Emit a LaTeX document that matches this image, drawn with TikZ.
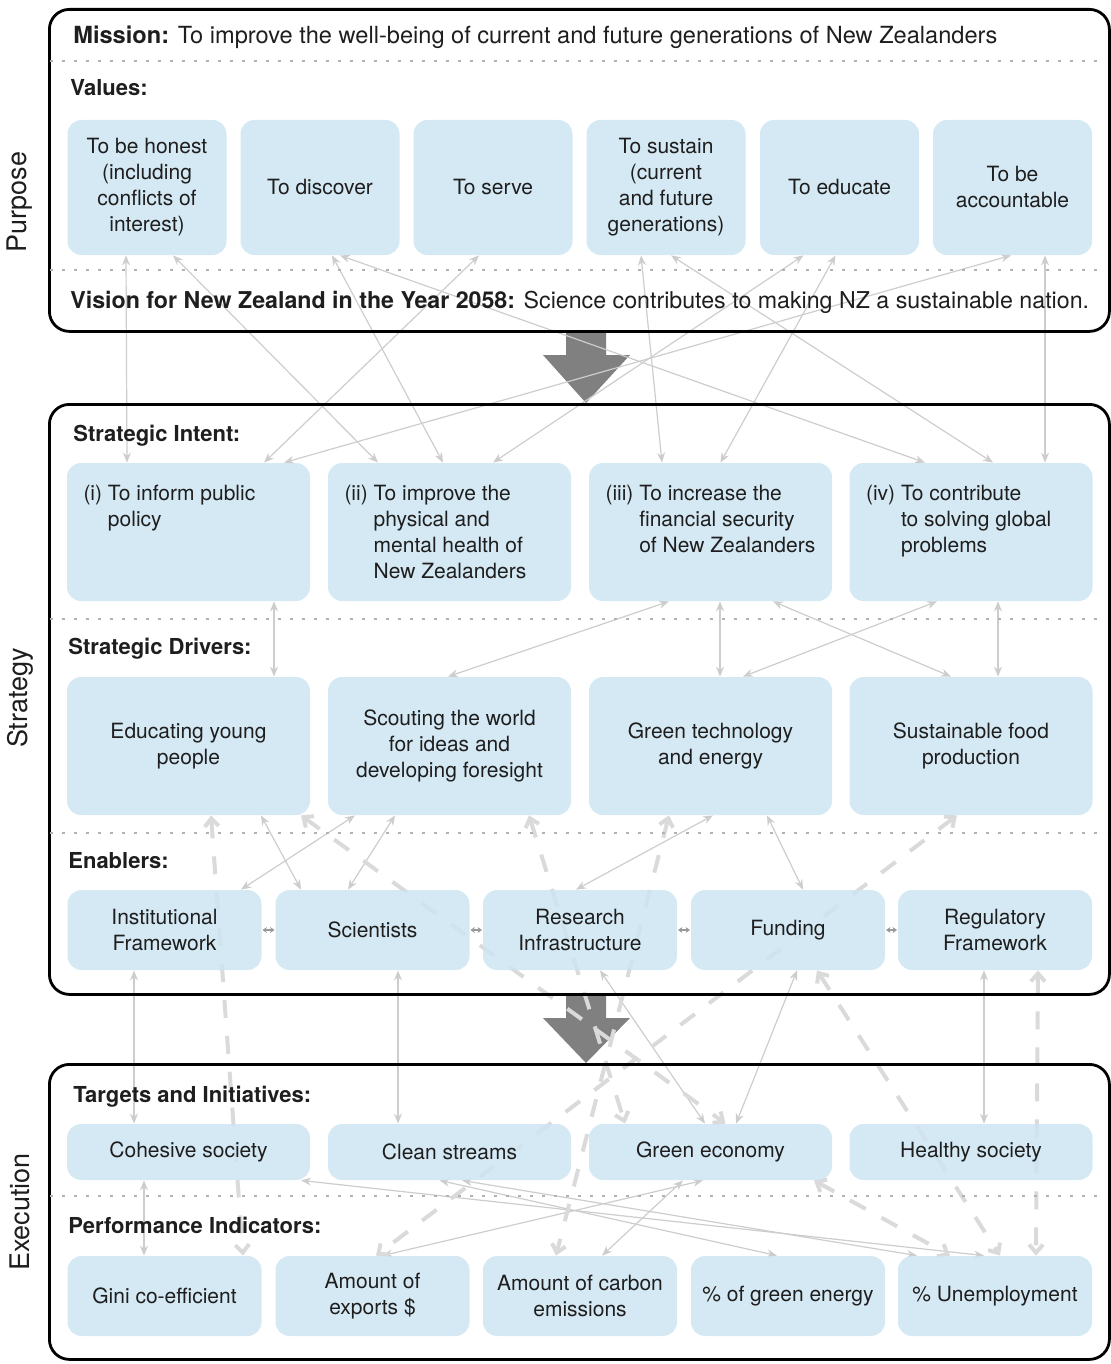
\documentclass[tikz,border=0pt]{standalone}
\usepackage{fontspec}
\setmainfont{TeX Gyre Heros}
\usetikzlibrary{arrows.meta,calc}

\definecolor{boxblue}{HTML}{CEE5F2}
\definecolor{linkgray}{HTML}{CDCDCD}
\definecolor{dashgray}{HTML}{DADADA}
\definecolor{dotgray}{HTML}{B2B2B2}
\definecolor{arrowgray}{HTML}{808080}
\definecolor{ink}{HTML}{1E1E1E}

\pgfdeclarelayer{links}
\pgfsetlayers{links,main}

\tikzset{
  panel/.style={draw=black, line width=1.4pt, rounded corners=10pt, anchor=north west, inner sep=0pt},
  item/.style={fill=boxblue, fill opacity=0.86, text opacity=1, rounded corners=7pt, inner sep=2pt, align=center},
  valbox/.style={item, minimum width=79.5pt, minimum height=67.5pt},
  bigbox/.style={item, minimum width=121.5pt, minimum height=69pt},
  enbox/.style={item, minimum width=97pt, minimum height=40pt},
  tgbox/.style={item, minimum width=121.5pt, minimum height=28pt},
  heading/.style={anchor=base west, inner sep=0pt, font=\fontsize{11}{13}\selectfont\bfseries},
  statement/.style={anchor=base west, inner sep=0pt, font=\fontsize{11.8}{13}\selectfont},
  sidelabel/.style={rotate=90, font=\fontsize{13.5}{16}\selectfont},
  sepline/.style={dotgray, line width=1.4pt, dash pattern=on 1.4pt off 4.6pt},
  link/.style={linkgray, line width=0.6pt, {Stealth[length=5pt,width=4pt]}-{Stealth[length=5pt,width=4pt]}},
  dlink/.style={dashgray, line width=2pt, dash pattern=on 9pt off 9pt, {Straight Barb[length=4pt,width=7pt]}-{Straight Barb[length=4pt,width=7pt]}},
  tinylink/.style={gray!80, line width=0.7pt, {Stealth[length=2.2pt,width=3pt]}-{Stealth[length=2.2pt,width=3pt]}, shorten <=0.3pt, shorten >=0.3pt}
}

% intent box text with hanging indent
\newcommand{\intent}[2]{\parbox[c][50pt][t]{105pt}{\begin{tabular}{@{}l@{\ }l@{}}#1 & #2\end{tabular}}}

\begin{document}
\begin{tikzpicture}[x=0.5pt, y=-0.5pt, font=\fontsize{10.5}{13}\selectfont, text=ink]
\useasboundingbox (0,0) rectangle (1111,1364);

% panels
\node[panel, minimum width=530pt, minimum height=161pt] (purpose) at (48,8) {};
\node[panel, minimum width=530pt, minimum height=295pt] (strategy) at (48,403) {};
\node[panel, minimum width=530pt, minimum height=147.5pt] (execution) at (48,1063) {};

\node[sidelabel] (purposelbl) at (20,202) {Purpose};
\node[sidelabel] (strategylbl) at (20,698) {Strategy};
\node[sidelabel] (executionlbl) at (20,1212) {Execution};

% dotted separators
\draw[sepline] (50,61) -- (1106,61);
\draw[sepline] (50,270) -- (1106,270);
\draw[sepline] (50,619) -- (1106,619);
\draw[sepline] (50,833) -- (1106,833);
\draw[sepline] (50,1196) -- (1106,1196);

% headings
\node[statement] (mission) at (73,44) {\textbf{Mission:} To improve the well-being of current and future generations of New Zealanders};
\node[heading] (values) at (70,96) {Values:};
\node[statement, font=\fontsize{11.6}{13}\selectfont] (vision) at (70,308) {\textbf{Vision for New Zealand in the Year 2058:} Science contributes to making NZ a sustainable nation.};
\node[heading] (intenthd) at (73,441) {Strategic Intent:};
\node[heading] (drivershd) at (68,654) {Strategic Drivers:};
\node[heading] (enablershd) at (68,868) {Enablers:};
\node[heading] (targetshd) at (73,1102) {Targets and Initiatives:};
\node[heading] (indicatorshd) at (68,1233) {Performance Indicators:};

% values
\node[valbox] (v1) at (147,187.5) {To be honest\\(including\\conflicts of\\interest)};
\node[valbox] (v2) at (320,187.5) {To discover};
\node[valbox] (v3) at (493,187.5) {To serve};
\node[valbox] (v4) at (666,187.5) {To sustain\\(current\\and future\\generations)};
\node[valbox] (v5) at (839.5,187.5) {To educate};
\node[valbox] (v6) at (1012.5,187.5) {To be\\accountable};

% strategic intent
\node[bigbox] (in1) at (188.5,532) {\intent{(i)}{To inform public\\ & policy}};
\node[bigbox] (in2) at (449.5,532) {\intent{(ii)}{To improve the\\ & physical and\\ & mental health of\\ & New Zealanders}};
\node[bigbox] (in3) at (710.5,532) {\intent{(iii)}{To increase the\\ & financial security\\ & of New Zealanders}};
\node[bigbox] (in4) at (971,532) {\intent{(iv)}{To contribute\\ & to solving global\\ & problems}};

% strategic drivers
\node[bigbox] (dr1) at (188.5,746) {Educating young\\people};
\node[bigbox] (dr2) at (449.5,746) {Scouting the world\\for ideas and\\developing foresight};
\node[bigbox] (dr3) at (710.5,746) {Green technology\\and energy};
\node[bigbox] (dr4) at (971,746) {Sustainable food\\production};

% enablers
\node[enbox] (en1) at (164.5,930) {Institutional\\Framework};
\node[enbox] (en2) at (372.5,930) {Scientists};
\node[enbox] (en3) at (580,930) {Research\\Infrastructure};
\node[enbox] (en4) at (788,930) {Funding};
\node[enbox] (en5) at (995,930) {Regulatory\\Framework};

\draw[tinylink] (en1.east) -- (en2.west);
\draw[tinylink] (en2.east) -- (en3.west);
\draw[tinylink] (en3.east) -- (en4.west);
\draw[tinylink] (en4.east) -- (en5.west);

% targets and initiatives
\node[tgbox] (tg1) at (188.5,1152) {Cohesive society};
\node[tgbox] (tg2) at (449.5,1152) {Clean streams};
\node[tgbox] (tg3) at (710.5,1152) {Green economy};
\node[tgbox] (tg4) at (971,1152) {Healthy society};

% performance indicators
\node[enbox] (pi1) at (164.5,1296) {Gini co-efficient};
\node[enbox] (pi2) at (372.5,1296) {Amount of\\exports \$};
\node[enbox] (pi3) at (580,1296) {Amount of carbon\\emissions};
\node[enbox] (pi4) at (788,1296) {\% of green energy};
\node[enbox] (pi5) at (995,1296) {\% Unemployment};

\begin{pgfonlayer}{links}
% big arrows between the panels
\fill[arrowgray] (566,331) -- (606,331) -- (606,355) -- (630,355) -- (586,403) -- (543,355) -- (566,355) -- cycle;
\fill[arrowgray] (566,994) -- (606,994) -- (606,1018) -- (630,1018) -- (586,1063) -- (543,1018) -- (566,1018) -- cycle;

% values to intent
\draw[link] ($(v1.south)+(-21,0)$) -- ($(in1.north)+(-61.5,0)$);
\draw[link] ($(v1.south)+(26,0)$) -- ($(in2.north)+(-71.5,0)$);
\draw[link] ($(v2.south)+(12,0)$) -- ($(in2.north)+(-6.5,0)$);
\draw[link] ($(v2.south)+(20,0)$) -- ($(in4.north)+(-46,0)$);
\draw[link] ($(v3.south)+(-14,0)$) -- ($(in1.north)+(75.5,0)$);
\draw[link] ($(v4.south)+(-25,0)$) -- ($(in3.north)+(-48.5,0)$);
\draw[link] ($(v4.south)+(5,0)$) -- ($(in4.north)+(22,0)$);
\draw[link] ($(v5.south)+(-36,0)$) -- ($(in2.north)+(43.5,0)$);
\draw[link] ($(v5.south)+(-4,0)$) -- ($(in3.north)+(10,0)$);
\draw[link] ($(v6.south)+(-1.5,0)$) -- ($(in1.north)+(95.5,0)$);
\draw[link] ($(v6.south)+(32.5,0)$) -- ($(in4.north)+(74,0)$);

% intent to drivers
\draw[link] ($(in1.south)+(85.5,0)$) -- ($(dr1.north)+(85.5,0)$);
\draw[link] ($(in3.south)+(-41.5,0)$) -- ($(dr2.north)+(-1.5,0)$);
\draw[link] ($(in3.south)+(9.5,0)$) -- ($(dr3.north)+(9.5,0)$);
\draw[link] ($(in3.south)+(62.5,0)$) -- ($(dr4.north)+(-20,0)$);
\draw[link] ($(in4.south)+(-34,0)$) -- ($(dr3.north)+(32.5,0)$);
\draw[link] ($(in4.south)+(27,0)$) -- ($(dr4.north)+(27,0)$);

% drivers to enablers
\draw[link] ($(dr1.south)+(72.5,0)$) -- ($(en2.north)+(-71.5,0)$);
\draw[link] ($(dr2.south)+(-94.5,0)$) -- ($(en1.north)+(76.5,0)$);
\draw[link] ($(dr2.south)+(-54.5,0)$) -- ($(en2.north)+(-24.5,0)$);
\draw[link] ($(dr3.south)+(2.5,0)$) -- ($(en3.north)+(-4,0)$);
\draw[link] ($(dr3.south)+(56.5,0)$) -- ($(en4.north)+(15,0)$);

% enablers to targets
\draw[link] ($(en1.south)+(-30.5,0)$) -- ($(tg1.north)+(-54.5,0)$);
\draw[link] ($(en2.south)+(25.5,0)$) -- ($(tg2.north)+(-51.5,0)$);
\draw[link] ($(en3.south)+(20,0)$) -- ($(tg3.north)+(-5.5,0)$);
\draw[link] ($(en4.south)+(9,0)$) -- ($(tg3.north)+(25.5,0)$);
\draw[link] ($(en5.south)+(-11,0)$) -- ($(tg4.north)+(13,0)$);

% targets to indicators
\draw[link] ($(tg1.south)+(-44.5,0)$) -- ($(pi1.north)+(-20.5,0)$);
\draw[link] ($(tg1.south)+(112.5,0)$) -- ($(pi5.north)+(-11,0)$);
\draw[link] ($(tg2.south)+(12.5,0)$) -- ($(pi5.north)+(-78,0)$);
\draw[link] ($(tg2.south)+(-10,0)$) -- ($(pi4.north)+(-11,0)$);
\draw[link] ($(tg3.south)+(-7.5,0)$) -- ($(pi2.north)+(10,0)$);
\draw[link] ($(tg3.south)+(-27.5,0)$) -- ($(pi3.north)+(22,0)$);

% dashed cross links
\draw[dlink] ($(dr1.south)+(22.5,0)$) -- ($(pi1.north)+(78.5,0)$);
\draw[dlink] ($(dr1.south)+(112.5,0)$) -- ($(tg3.north)+(15,0)$);
\draw[dlink] ($(dr2.south)+(79.5,0)$) -- ($(tg3.north)+(-85.5,0)$);
\draw[dlink] ($(dr3.south)+(-41.5,0)$) -- ($(pi3.north)+(-24,0)$);
\draw[dlink] ($(dr4.south)+(-14,0)$) -- ($(pi2.north)+(3.5,0)$);
\draw[dlink] ($(en4.south)+(29,0)$) -- ($(pi5.north)+(5,0)$);
\draw[dlink] ($(en5.south)+(43,0)$) -- ($(pi5.north)+(41,0)$);
\draw[dlink] ($(tg3.south)+(103.5,0)$) -- ($(pi5.north)+(-45,0)$);
\end{pgfonlayer}
\end{tikzpicture}
\end{document}
